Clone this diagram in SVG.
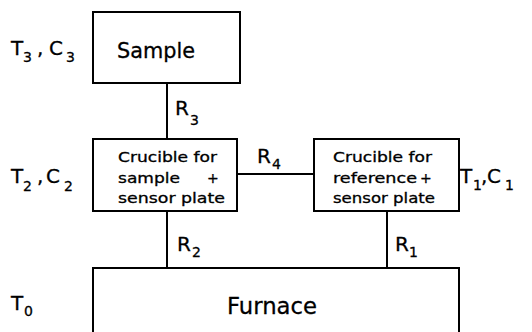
<svg xmlns="http://www.w3.org/2000/svg" width="532" height="332" viewBox="0 0 532 332">
<style>
.box{fill:#fff;stroke:#000;stroke-width:2}
.ln{stroke:#000;stroke-width:2;fill:none}
text{font-family:"DejaVu Sans","Liberation Sans",sans-serif;fill:#000;stroke:#000;stroke-width:0.3}
.sm{font-size:14px}
.lab{font-size:20px}
.sub{font-size:14px}
</style>
<rect width="532" height="332" fill="#fff"/>
<g id="connectors">
<line class="ln" x1="167" y1="83" x2="167" y2="139"/>
<line class="ln" x1="167" y1="211" x2="167" y2="268"/>
<line class="ln" x1="387" y1="211" x2="387" y2="268"/>
<line class="ln" x1="237" y1="174" x2="314" y2="174"/>
<text class="lab" x="175" y="115">R</text><text class="sub" x="190" y="125">3</text>
<text class="lab" x="177" y="251">R</text><text class="sub" x="192" y="257">2</text>
<text class="lab" x="395" y="251">R</text><text class="sub" x="409" y="257">1</text>
<text class="lab" x="257" y="163">R</text><text class="sub" x="272" y="169">4</text>
</g>
<g id="sample">
<rect class="box" x="93" y="12" width="147" height="71"/>
<text x="117" y="58" font-size="21" textLength="78" lengthAdjust="spacingAndGlyphs">Sample</text>
<text class="lab" x="11" y="55">T</text><text class="sub" x="23" y="62">3</text>
<text class="lab" x="37" y="55">,</text>
<text class="lab" x="49" y="55">C</text><text class="sub" x="66" y="62">3</text>
</g>
<g id="crucible-sample">
<rect class="box" x="93" y="139" width="144" height="72"/>
<text class="sm" x="118" y="162" textLength="99" lengthAdjust="spacingAndGlyphs">Crucible for</text>
<text class="sm" x="118" y="183" textLength="62" lengthAdjust="spacingAndGlyphs">sample</text>
<text class="sm" x="207" y="183">+</text>
<text class="sm" x="118" y="203" textLength="107" lengthAdjust="spacingAndGlyphs">sensor plate</text>
<text class="lab" x="11" y="183">T</text><text class="sub" x="23" y="191">2</text>
<text class="lab" x="37" y="183">,</text>
<text class="lab" x="46" y="183">C</text><text class="sub" x="64" y="191">2</text>
</g>
<g id="crucible-reference">
<rect class="box" x="314" y="139" width="145" height="72"/>
<text class="sm" x="333" y="162" textLength="99" lengthAdjust="spacingAndGlyphs">Crucible for</text>
<text class="sm" x="333" y="183" textLength="84" lengthAdjust="spacingAndGlyphs">reference</text>
<text class="sm" x="420" y="183">+</text>
<text class="sm" x="333" y="203" textLength="102" lengthAdjust="spacingAndGlyphs">sensor plate</text>
<text class="lab" x="460" y="183">T</text><text class="sub" x="473" y="190">1</text>
<text class="lab" x="481" y="183">,</text>
<text class="lab" x="487" y="183">C</text><text class="sub" x="505" y="190">1</text>
</g>
<g id="furnace">
<rect class="box" x="93" y="268" width="366" height="80"/>
<text x="227" y="314" font-size="23" textLength="90" lengthAdjust="spacingAndGlyphs">Furnace</text>
<text class="lab" x="11" y="310">T</text><text class="sub" x="24" y="316">0</text>
</g>
</svg>
